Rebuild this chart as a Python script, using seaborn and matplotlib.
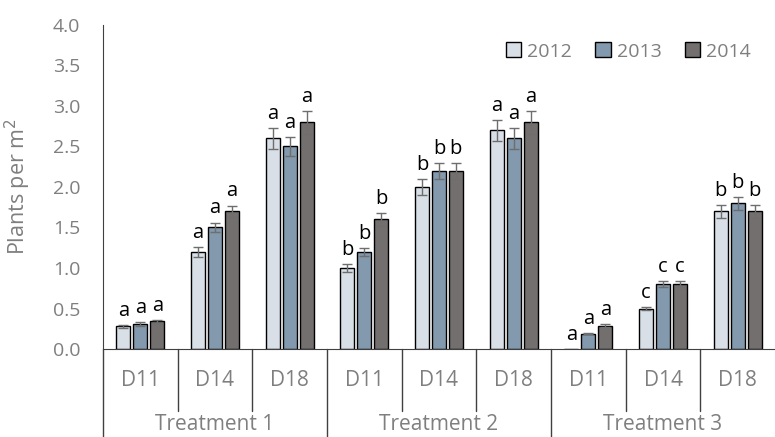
import matplotlib
matplotlib.use("Agg")
import matplotlib.pyplot as plt
import matplotlib.transforms as mtransforms
import pandas as pd
import seaborn as sns

# Datos
tratamientos = ["Treatment 1", "Treatment 2", "Treatment 3"]
dias = ["D11", "D14", "D18"]
anios = ["2012", "2013", "2014"]

valores_2012 = [0.28, 1.20, 2.60, 1.00, 2.00, 2.70, 0.00, 0.50, 1.70]
valores_2013 = [0.31, 1.50, 2.50, 1.20, 2.20, 2.60, 0.19, 0.80, 1.80]
valores_2014 = [0.34, 1.70, 2.80, 1.60, 2.20, 2.80, 0.29, 0.80, 1.70]

error_2012 = [0.02, 0.06, 0.13, 0.05, 0.10, 0.13, 0.00, 0.02, 0.08]
error_2013 = [0.02, 0.06, 0.12, 0.05, 0.10, 0.13, 0.01, 0.04, 0.08]
error_2014 = [0.02, 0.07, 0.14, 0.08, 0.10, 0.14, 0.02, 0.04, 0.08]

letras_2012 = ["a", "a", "a", "b", "b", "a", "a", "c", "b"]
letras_2013 = ["a", "a", "a", "b", "b", "a", "a", "c", "b"]
letras_2014 = ["a", "a", "a", "b", "b", "a", "a", "c", "b"]

colores = ["#D6DFE9", "#7C99B4", "#756E6E"]
gris_texto = "#7F7F7F"
color_ejes = "#404040"

categorias = [f"{t}|{d}" for t in tratamientos for d in dias]
df = pd.DataFrame({
    "cat": categorias * 3,
    "anio": [a for a in anios for _ in categorias],
    "valor": valores_2012 + valores_2013 + valores_2014,
})
errores = [error_2012, error_2013, error_2014]
letras = [letras_2012, letras_2013, letras_2014]

sns.set_style("white")
plt.rcParams["font.family"] = ["Open Sans", "DejaVu Sans"]

fig = plt.figure(figsize=(7.75, 4.37), dpi=100)
ax = fig.add_axes([103 / 775, 1 - 349 / 437, 1 - 103 / 775, (349 - 25) / 437])

sns.barplot(data=df, x="cat", y="valor", hue="anio", order=categorias,
            hue_order=anios, palette=colores, width=0.68, gap=0.18,
            edgecolor="black", linewidth=1.0, errorbar=None, ax=ax)

# Barras de error y letras
n = len(categorias)
for h in range(3):
    for i in range(n):
        p = ax.patches[h * n + i]
        xc = p.get_x() + p.get_width() / 2
        v = p.get_height()
        e = errores[h][i]
        if e > 0:
            ax.errorbar(xc, v, yerr=e, fmt="none", ecolor="#6E6E6E",
                        elinewidth=1, capsize=3.5, capthick=1)
        ax.annotate(letras[h][i], (xc, v + e), xytext=(0, 3),
                    textcoords="offset points", ha="center", va="bottom",
                    fontsize=14.5, color="black")

ax.set_ylim(0, 4.0)
ax.set_xlim(-0.5, n - 0.5)
ax.set_yticks([0, 0.5, 1.0, 1.5, 2.0, 2.5, 3.0, 3.5, 4.0])
ax.set_yticklabels([f"{v:.1f}" for v in ax.get_yticks()], fontsize=14, color=gris_texto)
ax.tick_params(axis="y", direction="in", length=5, color=color_ejes, pad=16.5)
ax.set_xticks([])
ax.set_xlabel("")
ax.set_ylabel("Plants per m$^2$", fontsize=15.5, color=gris_texto)
ax.yaxis.set_label_coords(-70 / 672, 0.5)

sns.despine(ax=ax, top=True, right=True)
ax.spines["left"].set_color(color_ejes)
ax.spines["bottom"].set_color(color_ejes)

# Eje x jerárquico
trans = mtransforms.blended_transform_factory(ax.transData, ax.transAxes)
alto = 324.0
for i in range(1, n):
    x = i - 0.5
    y_fin = -(437 - 349) / alto if i % 3 == 0 else -(411 - 349) / alto
    ax.plot([x, x], [0, y_fin], transform=trans, color=color_ejes,
            lw=1, clip_on=False)
ax.plot([-0.5, -0.5], [0, -(437 - 349) / alto], transform=trans,
        color=color_ejes, lw=1, clip_on=False)

for i, c in enumerate(categorias):
    ax.text(i, -(381 - 349) / alto, c.split("|")[1], transform=trans,
            ha="center", va="center", fontsize=15, color=gris_texto)
for j, t in enumerate(tratamientos):
    ax.text(3 * j + 1, -(424 - 349) / alto, t, transform=trans,
            ha="center", va="center", fontsize=15, color=gris_texto)

ax.legend(loc="upper right", bbox_to_anchor=(0.99, 1.0), ncol=3,
          frameon=False, fontsize=14, labelcolor=gris_texto,
          handlelength=0.8, handleheight=0.8, handletextpad=0.3,
          columnspacing=1.2)

fig.savefig("out.png", dpi=100)
